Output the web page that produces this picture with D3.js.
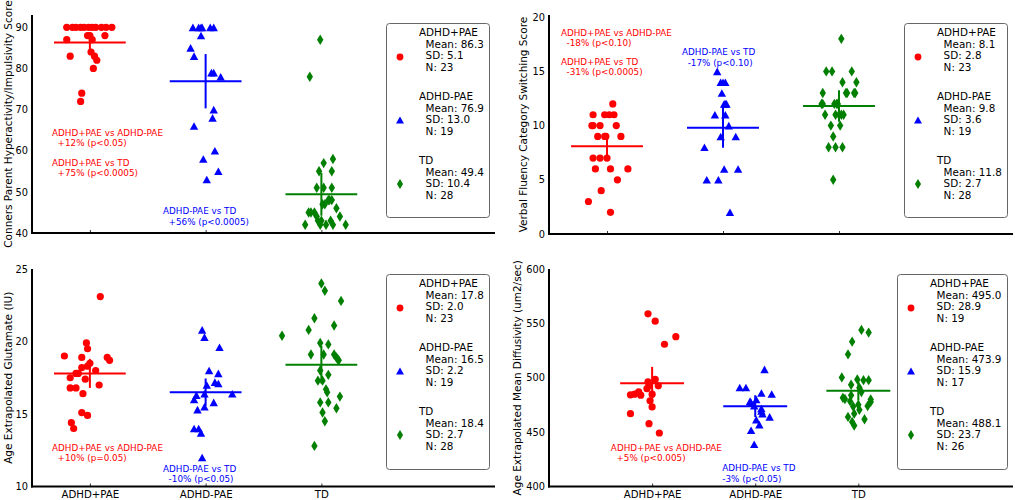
<!DOCTYPE html>
<html><head><meta charset="utf-8">
<script src="https://cdn.jsdelivr.net/npm/d3@7"></script>
<style>body{margin:0;background:#fff} text{font-family:"DejaVu Sans",sans-serif}</style>
</head><body><svg id="chart" width="1015" height="500"></svg>
<script>
// ---------- DATA ----------
const categories = ["ADHD+PAE", "ADHD-PAE", "TD"];
const groupColors = ["#ff0000", "#0000ff", "#007f00"];

// Panel A: Conners hyperactivity
const hyperLabel = "Conners Parent Hyperactivity/Impulsivity Score";
const hyperTicks = [40, 50, 60, 70, 80, 90];
const hyperPae = [90,90,90,90,90,90,90,90,90,90,90,88,88,88,87,87,84,83,83,82,80,74,72];
const hyperPaeJitter = [-0.20,-0.15,-0.12,-0.08,-0.05,-0.01,0.02,0.05,0.10,0.14,0.19,-0.02,0.13,0.0,-0.20,0.02,0.01,-0.17,0.04,0.06,0.03,-0.07,-0.08];
const hyperNoPae = [90,90,90,90,90,90,88,85,83,79,79,78,70,68,66,60,58,55,53];
const hyperNoPaeJitter = [-0.11,-0.06,-0.04,-0.03,0.04,0.07,-0.04,-0.13,-0.10,0.05,0.07,0.13,0.07,0.06,-0.10,0.08,-0.02,0.11,0.01];
const hyperTd = [87,78,58,57,55,55,51,51,51,48,48,48,47,47,46,45,45,45,44,44,43,43,43,42,42,42,42,42];
const hyperTdJitter = [-0.01,-0.10,0.10,0.02,-0.02,0.09,-0.04,0.02,0.09,0.07,0.06,0.09,0.01,0.03,0.13,-0.11,-0.09,-0.06,-0.04,0.16,-0.03,0.0,0.08,-0.14,-0.01,0.04,0.10,0.21];
const hyperMeans = [86.3, 76.9, 49.4];
const hyperSD = [5.1, 13.0, 10.4];
const hyperN = [23, 19, 28];
const hyperErr = [2.5, 6.6, 5.2];
const hyperNotes = [
  ["ADHD+PAE vs ADHD-PAE", "  +12% (p<0.05)"],
  ["ADHD+PAE vs TD", "  +75% (p<0.0005)"],
  ["ADHD-PAE vs TD", "  +56% (p<0.0005)"]
];

// Panel B: Verbal fluency
const verbalLabel = "Verbal Fluency Category Switching Score";
const verbalTicks = [0, 5, 10, 15, 20];
const verbalPae = [12,11,11,11,11,10,10,10,10,9,9,9,9,7,7,7,6,6,6,5,4,3,2];
const verbalPaeJitter = [0.05,-0.12,-0.02,0.02,0.06,-0.13,-0.12,-0.06,0.08,-0.08,-0.02,-0.01,0.12,-0.12,-0.06,0.0,-0.10,0.03,0.18,0.09,-0.05,-0.16,0.03];
const verbalNoPae = [15,14,14,14,13,12,12,12,11,11,10,9,9,8,6,6,5,5,2];
const verbalNoPaeJitter = [-0.05,-0.02,0.0,0.02,-0.01,0.01,0.02,0.03,-0.07,0.02,0.05,-0.02,0.11,-0.16,0.01,0.13,-0.14,-0.04,0.06];
const verbalTd = [18,15,15,15,14,14,13,13,13,13,13,12,12,12,12,12,11,11,11,11,11,10,10,9,8,8,8,5];
const verbalTdJitter = [0.02,-0.11,-0.06,0.11,0.03,0.15,-0.14,0.06,0.13,0.14,0.07,-0.15,-0.14,-0.04,-0.02,-0.01,-0.12,-0.03,0.0,0.02,0.04,-0.07,0.01,-0.05,-0.09,-0.03,0.03,-0.05];
const verbalMeans = [8.1, 9.8, 11.8];
const verbalSD = [2.8, 3.6, 2.7];
const verbalN = [23, 19, 28];
const verbalErr = [1.2, 1.85, 1.45];
const verbalNotes = [
  ["ADHD+PAE vs ADHD-PAE", "  -18% (p<0.10)"],
  ["ADHD+PAE vs TD", "  -31% (p<0.0005)"],
  ["ADHD-PAE vs TD", "  -17% (p<0.10)"]
];

// Panel C: Glutamate
const gluLabel = "Age Extrapolated Glutamate (IU)";
const gluTicks = [10, 15, 20, 25];
const gluPae = [23.1,19.9,19.5,19.0,18.9,18.9,18.7,18.5,18.3,18.2,18.0,17.8,17.8,17.5,17.4,17.0,16.8,16.8,16.4,15.1,14.9,14.4,14.0];
const gluPaeJitter = [0.09,-0.03,-0.02,-0.22,-0.07,0.15,0.17,0.0,-0.02,-0.07,0.05,-0.12,-0.10,-0.17,-0.04,0.08,-0.17,-0.12,-0.06,-0.07,-0.02,-0.16,-0.14];
const gluNoPae = [20.8,20.3,19.6,18.0,17.8,17.2,17.1,17.0,16.4,16.4,16.3,16.0,15.8,15.5,15.3,14.0,14.0,13.7,12.0];
const gluNoPaeJitter = [-0.03,-0.01,0.12,0.03,0.11,0.08,0.11,0.01,-0.01,0.23,-0.08,-0.10,0.07,-0.01,-0.07,-0.10,-0.06,-0.04,-0.03];
const gluTd = [24.0,23.5,22.8,21.6,21.1,20.8,20.4,19.9,19.8,19.1,19.1,19.1,18.9,18.8,18.7,18.0,17.7,17.3,17.3,16.7,16.5,16.2,15.8,15.8,15.4,15.1,14.5,12.8];
const gluTdJitter = [0.0,0.03,0.17,-0.06,0.11,-0.11,-0.34,-0.01,0.06,-0.09,0.02,0.11,0.13,0.14,0.15,-0.01,0.06,-0.03,0.01,0.04,0.05,0.16,-0.01,0.06,0.13,0.01,0.03,-0.06];
const gluMeans = [17.8, 16.5, 18.4];
const gluSD = [2.0, 2.2, 2.7];
const gluN = [23, 19, 28];
const gluErr = [1.0, 0.95, 1.3];
const gluNotes = [
  ["ADHD+PAE vs ADHD-PAE", "  +10% (p=0.05)"],
  ["ADHD-PAE vs TD", "  -10% (p<0.05)"]
];

// Panel D: Mean diffusivity
const mdLabel = "Age Extrapolated Mean Diffusivity (um2/sec)";
const mdTicks = [400, 450, 500, 550, 600];
const mdPae = [558.8,552,537.8,530.8,498.5,496.3,492.6,492.6,490,487,484.3,484.9,484,484.9,478.8,473.2,467,457.8,449.2];
const mdPaeJitter = [-0.04,0.03,0.23,0.12,0.03,-0.04,0.06,-0.03,-0.05,-0.13,-0.21,-0.17,-0.11,0.0,-0.02,0.0,-0.21,-0.03,0.07];
const mdNoPae = [507.7,491,491,486,485,480,478.5,477.2,474.2,471.7,469.5,467,464,461.5,456.9,451.7,438.8];
const mdNoPaeJitter = [0.09,-0.15,-0.09,0.06,0.16,0.01,-0.05,-0.04,-0.01,0.06,0.06,0.07,0.14,0.01,0.04,-0.04,-0.01];
const mdTd = [544,541.5,533.2,521.5,500.3,498.5,497.8,497.8,493.5,490.8,486.9,483.8,481.5,480.5,480,478.5,477.8,475.2,474,473.5,470.5,467,464,461.8,459.4,456];
const mdTdJitter = [0.03,0.10,-0.06,-0.10,-0.16,-0.01,0.05,0.10,-0.07,0.01,0.03,-0.07,-0.15,-0.13,0.12,-0.08,0.12,0.0,0.09,-0.05,0.01,-0.04,-0.10,0.06,-0.06,-0.04];
const mdMeans = [495.0, 473.9, 488.1];
const mdSD = [28.9, 15.9, 23.7];
const mdN = [19, 17, 26];
const mdErr = [15, 10, 9];
const mdNotes = [
  ["ADHD+PAE vs ADHD-PAE", "  +5% (p<0.005)"],
  ["ADHD-PAE vs TD", "-3% (p<0.05)"]
];

// ---------- LAYOUT ----------
const panels = [
  { label: hyperLabel, ticks: hyperTicks, values: [hyperPae, hyperNoPae, hyperTd], jitter: [hyperPaeJitter, hyperNoPaeJitter, hyperTdJitter],
    means: hyperMeans, sds: hyperSD, ns: hyperN, errs: hyperErr, notes: hyperNotes, noteColors: [0, 0, 1],
    notePos: [[0.173, 63.7], [0.173, 56.4], [1.132, 44.5]],
    xRange: [32, 495], yRange: [233, 15], xDomain: [0, 4], yDomain: [40, 93], cats: [0.5, 1.5, 2.5],
    legend: { x: 386, y: 23, w: 103, h: 194 }, labelX: 12, showX: false },
  { label: verbalLabel, ticks: verbalTicks, values: [verbalPae, verbalNoPae, verbalTd], jitter: [verbalPaeJitter, verbalNoPaeJitter, verbalTdJitter],
    means: verbalMeans, sds: verbalSD, ns: verbalN, errs: verbalErr, notes: verbalNotes, noteColors: [0, 0, 1],
    notePos: [[0.103, 18.3], [0.103, 15.6], [1.147, 16.5]],
    xRange: [549, 1013], yRange: [234, 15], xDomain: [0, 4], yDomain: [0, 20.2], cats: [0.5, 1.5, 2.5],
    legend: { x: 904, y: 23, w: 103, h: 194 }, labelX: 527, showX: false },
  { label: gluLabel, ticks: gluTicks, values: [gluPae, gluNoPae, gluTd], jitter: [gluPaeJitter, gluNoPaeJitter, gluTdJitter],
    means: gluMeans, sds: gluSD, ns: gluN, errs: gluErr, notes: gluNotes, noteColors: [0, 1],
    notePos: [[0.173, 12.48], [1.132, 11.03]],
    xRange: [32, 495], yRange: [486.5, 269], xDomain: [0, 4], yDomain: [10, 25], cats: [0.5, 1.5, 2.5],
    legend: { x: 386, y: 274, w: 103, h: 195 }, labelX: 12, showX: true },
  { label: mdLabel, ticks: mdTicks, values: [mdPae, mdNoPae, mdTd], jitter: [mdPaeJitter, mdNoPaeJitter, mdTdJitter],
    means: mdMeans, sds: mdSD, ns: mdN, errs: mdErr, notes: mdNotes, noteColors: [0, 1],
    notePos: [[0.60, 433.1], [1.68, 413.8]],
    xRange: [549, 1013], yRange: [486.5, 269], xDomain: [0, 4.5], yDomain: [400, 600], cats: [1, 2, 3],
    legend: { x: 897, y: 274, w: 110, h: 195 }, labelX: 521, showX: true }
];

const svg = d3.select("#chart");
const FONT = "DejaVu Sans, sans-serif";

function marker(sel, k, scale) {
  const s = scale || 1;
  if (k === 0) {
    return sel.append("circle").attr("r", 3.6 * s);
  } else if (k === 1) {
    const w = 4.2 * s, h = 3.8 * s;
    return sel.append("path").attr("d", `M0,${-h}L${w},${h}L${-w},${h}Z`);
  } else {
    const w = 3.2 * s, h = 5.2 * s;
    return sel.append("path").attr("d", `M0,${-h}L${w},0L0,${h}L${-w},0Z`);
  }
}

panels.forEach(p => {
  const x = d3.scaleLinear().domain(p.xDomain).range(p.xRange);
  const y = d3.scaleLinear().domain(p.yDomain).range(p.yRange);
  const g = svg.append("g");

  // y axis
  const ya = g.append("g").attr("transform", `translate(${p.xRange[0]},0)`)
    .call(d3.axisLeft(y).tickValues(p.ticks).tickSize(0).tickPadding(4).tickFormat(d3.format("d")));
  ya.select(".domain").remove();
  ya.selectAll("text").attr("font-size", 9.8).attr("font-family", FONT).attr("fill", "#000");

  // x axis
  const xa = g.append("g").attr("transform", `translate(0,${p.yRange[0]})`)
    .call(d3.axisBottom(x).tickValues(p.cats).tickSize(-3).tickPadding(4)
      .tickFormat((d, i) => p.showX ? categories[i] : ""));
  xa.select(".domain").remove();
  xa.selectAll("line").attr("stroke", "#000").attr("stroke-width", 0.8);
  xa.selectAll("text").attr("font-size", 10.2).attr("font-family", FONT).attr("fill", "#000");

  // spines
  g.append("line").attr("x1", p.xRange[0]).attr("x2", p.xRange[0]).attr("y1", p.yRange[1]).attr("y2", p.yRange[0] + 1)
    .attr("stroke", "#000").attr("stroke-width", 2);
  g.append("line").attr("x1", p.xRange[0] - 1).attr("x2", p.xRange[1]).attr("y1", p.yRange[0]).attr("y2", p.yRange[0])
    .attr("stroke", "#000").attr("stroke-width", 2);

  // y label
  g.append("text")
    .attr("transform", `translate(${p.labelX},${(p.yRange[0] + p.yRange[1]) / 2}) rotate(-90)`)
    .attr("text-anchor", "middle").attr("font-size", 10.5).attr("font-family", FONT).text(p.label);

  // points
  p.values.forEach((vals, k) => {
    const grp = g.append("g").attr("fill", groupColors[k]);
    vals.forEach((v, i) => {
      const m = marker(grp, k);
      const px = x(p.cats[k] + p.jitter[k][i]), py = y(v);
      if (k === 0) m.attr("cx", px).attr("cy", py);
      else m.attr("transform", `translate(${px},${py})`);
    });
  });

  // mean lines and error bars
  p.means.forEach((m, k) => {
    g.append("line").attr("x1", x(p.cats[k] - 0.31)).attr("x2", x(p.cats[k] + 0.31))
      .attr("y1", y(m)).attr("y2", y(m)).attr("stroke", groupColors[k]).attr("stroke-width", 2);
    g.append("line").attr("x1", x(p.cats[k])).attr("x2", x(p.cats[k]))
      .attr("y1", y(m - p.errs[k])).attr("y2", y(m + p.errs[k])).attr("stroke", groupColors[k]).attr("stroke-width", 2);
  });

  // annotations
  p.notes.forEach((lines, j) => {
    const t = g.append("text").attr("font-size", 8.8).attr("font-family", FONT)
      .attr("fill", groupColors[p.noteColors[j]]).style("white-space", "pre");
    lines.forEach((ln, li) => {
      t.append("tspan").attr("x", x(p.notePos[j][0])).attr("y", y(p.notePos[j][1]) + li * 10.5).text(ln);
    });
  });

  // legend
  const L = p.legend;
  const lg = g.append("g");
  lg.append("rect").attr("x", L.x + 0.5).attr("y", L.y + 0.5).attr("width", L.w).attr("height", L.h)
    .attr("rx", 3).attr("fill", "#fff").attr("stroke", "#666").attr("stroke-width", 1);
  categories.forEach((c, k) => {
    const top = L.y + 9 + k * 64;
    const t = lg.append("text").attr("font-size", 10.4).attr("font-family", FONT).style("white-space", "pre")
      .attr("dominant-baseline", "central");
    const lines = [c, `  Mean: ${p.means[k].toFixed(1)}`, `  SD: ${p.sds[k].toFixed(1)}`, `  N: ${p.ns[k]}`];
    lines.forEach((ln, li) => {
      t.append("tspan").attr("x", L.x + 33).attr("y", top + li * 11.7).text(ln);
    });
    const mk = marker(lg.append("g").attr("fill", groupColors[k]), k, 0.95);
    if (k === 0) mk.attr("cx", L.x + 14).attr("cy", top + 25);
    else mk.attr("transform", `translate(${L.x + 14},${top + 24})`);
  });
});
</script></body></html>
